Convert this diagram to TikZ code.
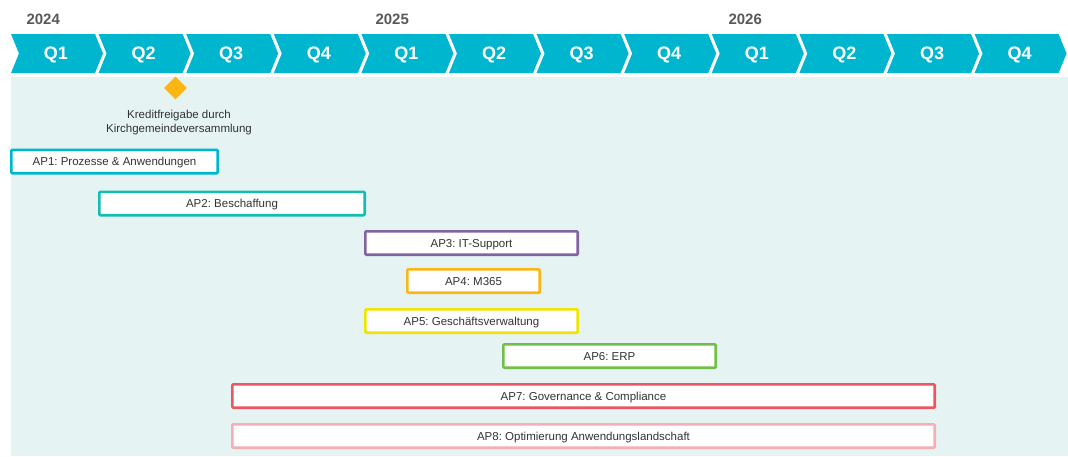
\documentclass[tikz,border=0pt]{standalone}
\usepackage{fontspec}
\setmainfont{Liberation Sans}
\usetikzlibrary{shapes.geometric}
\frenchspacing

\definecolor{qcyan}{RGB}{0,182,207}
\definecolor{bgteal}{RGB}{229,243,243}
\definecolor{yeargray}{RGB}{89,89,89}
\definecolor{txtgray}{RGB}{51,51,51}
\definecolor{apteal}{RGB}{19,189,178}
\definecolor{appurple}{RGB}{128,100,162}
\definecolor{aporange}{RGB}{252,182,20}
\definecolor{apyellow}{RGB}{238,230,0}
\definecolor{apgreen}{RGB}{112,191,72}
\definecolor{apred}{RGB}{236,85,98}
\definecolor{appink}{RGB}{245,175,179}

\begin{document}
\begin{tikzpicture}[x=1pt, y=-1pt,
    year/.style={anchor=west, font=\fontsize{15}{18}\selectfont\bfseries, text=yeargray},
    quarter/.style={font=\fontsize{18}{20}\selectfont\bfseries, text=white},
    bar/.style={draw=#1, line width=2.6pt, fill=white, rounded corners=1pt,
        minimum height=23.4, inner sep=0pt, text height=8.3, text depth=0pt,
        text=txtgray, font=\fontsize{11.5}{13}\selectfont}]

    \useasboundingbox (0,0) rectangle (1068,456);

    % Background
    \fill[bgteal] (11,77) rectangle (1068,456);

    % Quarter chevrons
    \foreach \i/\q in {0/Q1,1/Q2,2/Q3,3/Q4,4/Q1,5/Q2,6/Q3,7/Q4,8/Q1,9/Q2,10/Q3,11/Q4} {
        \pgfmathsetmacro{\xa}{11+87.6*\i}
        \fill[qcyan] (\xa,34) -- ++(84,0) -- ++(8,19.5) -- ++(-8,19.5) -- ++(-84,0) -- ++(8,-19.5) -- cycle;
        \node[quarter] (q\i) at (\xa+45,55) {\q};
    }

    % Years
    \node[year] (y2024) at (23,19) {2024};
    \node[year] (y2025) at (372,19) {2025};
    \node[year] (y2026) at (725,19) {2026};

    % Milestone
    \node[diamond, fill=aporange, minimum size=23, inner sep=0pt] (ms) at (175.5,88) {};
    \node[align=center, text=txtgray, font=\fontsize{11.5}{14}\selectfont] (mslabel) at (179,122.5)
        {Kreditfreigabe durch\\Kirchgemeindeversammlung};

    % Work packages
    \node[bar=qcyan, minimum width=206.4] (ap1) at (114.5,161.5) {AP1: Prozesse \& Anwendungen};
    \node[bar=apteal, minimum width=265.4] (ap2) at (232,203.5) {AP2: Beschaffung};
    \node[bar=appurple, minimum width=212.4] (ap3) at (471.5,243) {AP3: IT-Support};
    \node[bar=aporange, minimum width=132.4] (ap4) at (473.5,281) {AP4: M365};
    \node[bar=apyellow, minimum width=212.4] (ap5) at (471.5,321) {AP5: Gesch\"aftsverwaltung};
    \node[bar=apgreen, minimum width=212.4] (ap6) at (609.5,356) {AP6: ERP};
    \node[bar=apred, minimum width=702.4] (ap7) at (583.5,396) {AP7: Governance \& Compliance};
    \node[bar=appink, minimum width=702.4] (ap8) at (583.5,436) {AP8: Optimierung Anwendungslandschaft};

\end{tikzpicture}
\end{document}
